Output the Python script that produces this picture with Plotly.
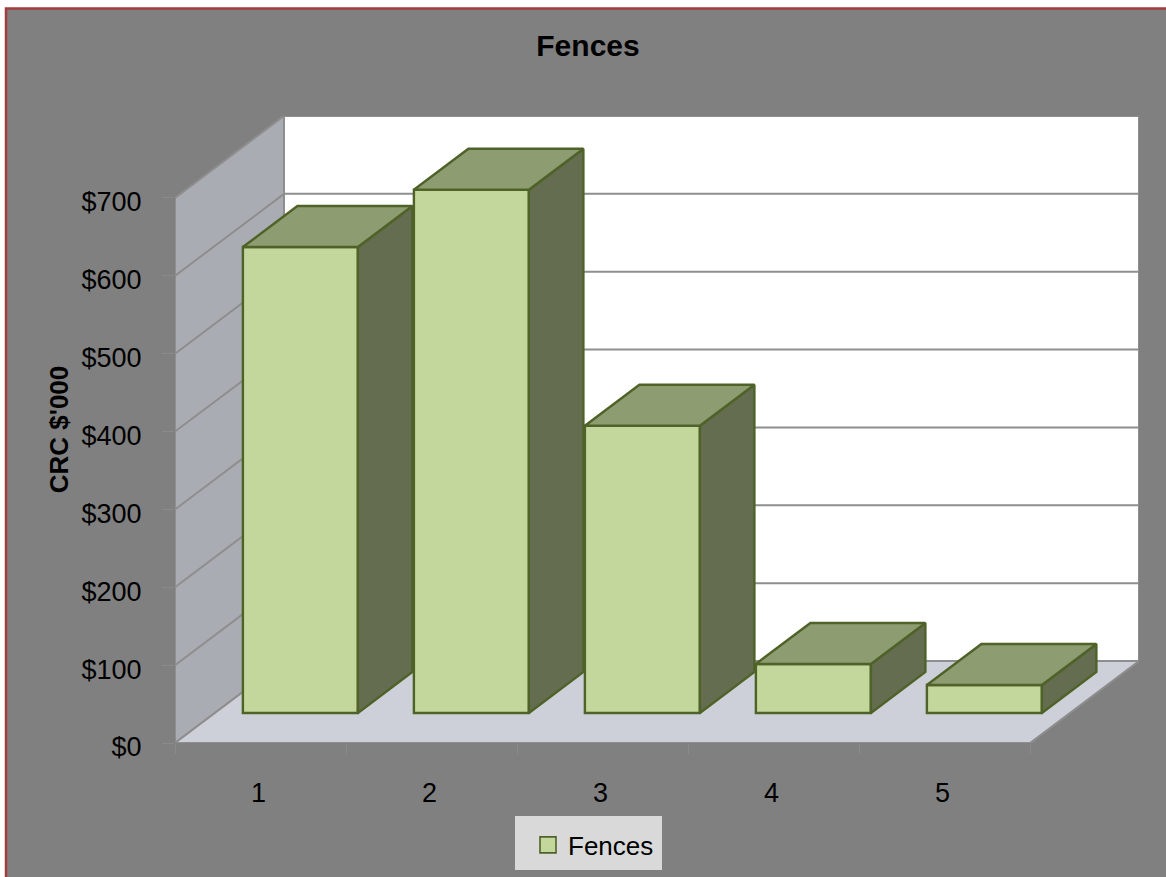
import plotly.graph_objects as go

# Series values and axis labels
categories = ["1", "2", "3", "4", "5"]
values = [598.5, 672, 369, 63, 36]
value_ticks = [0, 100, 200, 300, 400, 500, 600, 700]
value_labels = ["$0", "$100", "$200", "$300", "$400", "$500", "$600", "$700"]

WIDTH, HEIGHT = 1166, 877
FONT = "Liberation Sans"

# Oblique depth of the box: one full depth step in axis units
DEPTH_X = 0.6374
DEPTH_Y = 105.3
BAR_WIDTH = 0.6725
BAR_FRONT = 0.366
BAR_BACK = 0.866

FRONT_FILL = "#c3d69b"
TOP_FILL = "#8e9c71"
SIDE_FILL = "#656d50"
EDGE = "#4f6228"
GRID = "#8e8e8e"
WALL = "#a9acb2"
FLOOR = "#cdd0d8"
PANEL = "#808080"
BORDER = "#a33c3c"


def px(c, d):
    return c + d * DEPTH_X


def py(v, d):
    return v + d * DEPTH_Y


def poly_path(points):
    head, *rest = points
    return f"M{head[0]},{head[1]} " + " ".join(f"L{a},{b}" for a, b in rest) + " Z"


n = len(categories)
top_value = value_ticks[-1]
shapes = [
    # Chart panel with its border, running off the right and bottom of the page
    dict(type="rect", xref="paper", yref="paper", layer="below",
         x0=-175 / 964 + 6 / 964, x1=1.1,
         y0=-0.3, y1=1 + (116 - 8.5) / 627,
         fillcolor=PANEL, line=dict(color=BORDER, width=2.5)),
    # Legend backing
    dict(type="rect", xref="paper", yref="paper", layer="below",
         x0=(515 - 175) / 964, x1=(662 - 175) / 964,
         y0=(743 - 870) / 627, y1=(743 - 816) / 627,
         fillcolor="#d9d9d9", line=dict(width=0)),
    # Back wall
    dict(type="path", xref="x", yref="y", layer="below",
         path=poly_path([(px(0, 1), py(0, 1)), (px(n, 1), py(0, 1)),
                         (px(n, 1), py(top_value, 1)), (px(0, 1), py(top_value, 1))]),
         fillcolor="#ffffff", line=dict(color=GRID, width=2)),
    # Side wall
    dict(type="path", xref="x", yref="y", layer="below",
         path=poly_path([(px(0, 0), py(0, 0)), (px(0, 1), py(0, 1)),
                         (px(0, 1), py(top_value, 1)), (px(0, 0), py(top_value, 0))]),
         fillcolor=WALL, line=dict(color=GRID, width=2)),
    # Floor
    dict(type="path", xref="x", yref="y", layer="below",
         path=poly_path([(px(0, 0), py(0, 0)), (px(n, 0), py(0, 0)),
                         (px(n, 1), py(0, 1)), (px(0, 1), py(0, 1))]),
         fillcolor=FLOOR, line=dict(color=GRID, width=2)),
]
# Gridlines fold from the side wall onto the back wall
for tick in value_ticks[1:-1]:
    shapes.append(dict(type="path", xref="x", yref="y", layer="below",
                       path=f"M{px(0, 0)},{py(tick, 0)} L{px(0, 1)},{py(tick, 1)} L{px(n, 1)},{py(tick, 1)}",
                       line=dict(color=GRID, width=2)))

fig = go.Figure()

# Front faces
centres = [i + 0.5 + BAR_FRONT * DEPTH_X for i in range(n)]
fig.add_trace(go.Bar(
    x=centres, y=values, base=BAR_FRONT * DEPTH_Y, width=BAR_WIDTH,
    marker=dict(color=FRONT_FILL, line=dict(color=EDGE, width=2.4)),
    showlegend=False, hoverinfo="skip", cliponaxis=False,
))

# Top and side faces of every bar
for i, v in enumerate(values):
    left = i + 0.5 - BAR_WIDTH / 2
    right = i + 0.5 + BAR_WIDTH / 2
    top = [(px(left, BAR_FRONT), py(v, BAR_FRONT)), (px(right, BAR_FRONT), py(v, BAR_FRONT)),
           (px(right, BAR_BACK), py(v, BAR_BACK)), (px(left, BAR_BACK), py(v, BAR_BACK)),
           (px(left, BAR_FRONT), py(v, BAR_FRONT))]
    side = [(px(right, BAR_FRONT), py(0, BAR_FRONT)), (px(right, BAR_BACK), py(0, BAR_BACK)),
            (px(right, BAR_BACK), py(v, BAR_BACK)), (px(right, BAR_FRONT), py(v, BAR_FRONT)),
            (px(right, BAR_FRONT), py(0, BAR_FRONT))]
    for pts, colour in ((side, SIDE_FILL), (top, TOP_FILL)):
        fig.add_trace(go.Scatter(
            x=[p[0] for p in pts], y=[p[1] for p in pts], mode="lines", fill="toself",
            fillcolor=colour, line=dict(color=EDGE, width=2.4),
            showlegend=False, hoverinfo="skip", cliponaxis=False,
        ))

# Legend entry
fig.add_trace(go.Scatter(
    x=[None], y=[None], mode="markers", name="Fences",
    marker=dict(symbol="square", size=16, color=FRONT_FILL, line=dict(color=EDGE, width=1.6)),
))

fig.update_layout(
    width=WIDTH, height=HEIGHT,
    margin=dict(l=175, r=27, t=116, b=134, autoexpand=False),
    paper_bgcolor="#ffffff", plot_bgcolor="rgba(0,0,0,0)",
    font=dict(family=FONT, size=27, color="#000000"),
    shapes=shapes,
    showlegend=True,
    title=dict(text="<b>Fences</b>", x=588 / WIDTH, xanchor="center", xref="container",
               y=1 - 45 / HEIGHT, yanchor="middle", yref="container",
               font=dict(family=FONT, size=30, color="#000000")),
    legend=dict(x=(528 - 175) / 964, xanchor="left", y=(743 - 845) / 627, yanchor="middle",
                bgcolor="rgba(0,0,0,0)", borderwidth=0, itemsizing="trace",
                font=dict(family=FONT, size=26, color="#000000")),
    xaxis=dict(
        range=[0, 964 / 171], showgrid=False, zeroline=False, showline=False,
        tickmode="array", tickvals=[i + 0.5 for i in range(n)], ticktext=categories,
        ticks="", ticklabelstandoff=31, ticklabelshift=-2,
        minor=dict(tickmode="array", tickvals=list(range(n + 1)), ticks="outside",
                   ticklen=10, tickwidth=1, tickcolor="#8a8a8a"),
    ),
    yaxis=dict(
        range=[0, 627 / 0.7786], showgrid=False, zeroline=False, showline=False,
        tickmode="array", tickvals=value_ticks, ticktext=value_labels,
        ticks="outside", ticklen=12, tickwidth=1, tickcolor="#8a8a8a",
        ticklabelstandoff=15, ticklabelshift=4,
        title=dict(text="<b>CRC $'000</b>", standoff=5,
                   font=dict(family=FONT, size=26, color="#000000")),
    ),
)

fig.write_html("out.html")
